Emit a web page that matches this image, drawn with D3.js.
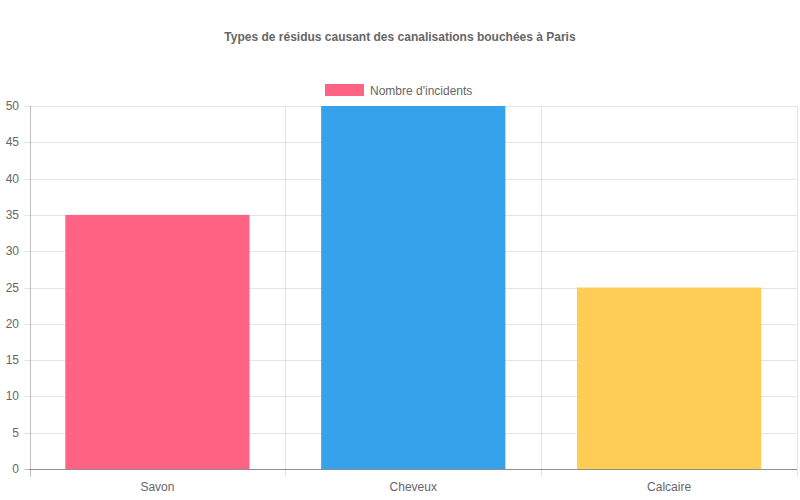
<!DOCTYPE html>
<html><head><meta charset="utf-8">
<script src="https://cdn.jsdelivr.net/npm/d3@7"></script>
<style>body{margin:0;background:#fff}svg{display:block;font-family:"Liberation Sans",Arial,sans-serif}</style>
</head><body><svg id="c" width="800" height="500"></svg>
<script>
const categories = ["Savon", "Cheveux", "Calcaire"];
const values = [35, 50, 25];
const colors = ["#ff6384", "#36a2eb", "#ffcd56"];
const yTicks = [0, 5, 10, 15, 20, 25, 30, 35, 40, 45, 50];
const title = "Types de résidus causant des canalisations bouchées à Paris";
const seriesName = "Nombre d'incidents";

const svg = d3.select("#c");
const L = 29.5, R = 797, T = 106, B = 469;
const x = d3.scaleBand().domain(categories).range([L, R]).paddingInner(0).paddingOuter(0);
const y = d3.scaleLinear().domain([0, 50]).range([B, T]);

svg.append("text").attr("x", 400).attr("y", 41).attr("text-anchor", "middle")
  .attr("font-size", 12).attr("font-weight", "bold").attr("fill", "#666").text(title);

// legend
svg.append("rect").attr("x", 325).attr("y", 84).attr("width", 39).attr("height", 12).attr("fill", colors[0]);
svg.append("text").attr("x", 370).attr("y", 94.5).attr("font-size", 12).attr("fill", "#666").text(seriesName);

// grid horizontal
const g = svg.append("g");
yTicks.forEach(t => {
  g.append("line").attr("x1", L - 5).attr("x2", R).attr("y1", Math.round(y(t)) + 0.5).attr("y2", Math.round(y(t)) + 0.5)
    .attr("stroke", t === 0 ? "rgba(0,0,0,0.25)" : "rgba(0,0,0,0.1)");
  g.append("text").attr("x", 19).attr("y", y(t) + 4).attr("text-anchor", "end").attr("font-size", 12).attr("fill", "#666").text(t);
});
// vertical grid
const vx = categories.map(c => x(c)).concat([R]);
vx.forEach((v, i) => {
  g.append("line").attr("x1", Math.round(v) + 0.5).attr("x2", Math.round(v) + 0.5).attr("y1", T).attr("y2", B + 8)
    .attr("stroke", i === 0 ? "rgba(0,0,0,0.25)" : "rgba(0,0,0,0.1)");
});

// bars
const bw = x.bandwidth() * 0.72;
svg.append("g").selectAll("rect").data(categories).join("rect")
  .attr("x", (d) => x(d) + (x.bandwidth() - bw) / 2)
  .attr("width", bw)
  .attr("y", (d, i) => y(values[i]))
  .attr("height", (d, i) => y(0) - y(values[i]))
  .attr("fill", (d, i) => colors[i]);

// redraw baseline on top
svg.append("line").attr("x1", L).attr("x2", R).attr("y1", Math.round(y(0)) + 0.5).attr("y2", Math.round(y(0)) + 0.5).attr("stroke", "rgba(0,0,0,0.25)");

// x labels
svg.append("g").selectAll("text").data(categories).join("text")
  .attr("x", d => x(d) + x.bandwidth() / 2).attr("y", 491).attr("text-anchor", "middle")
  .attr("font-size", 12).attr("fill", "#666").text(d => d);
</script></body></html>
